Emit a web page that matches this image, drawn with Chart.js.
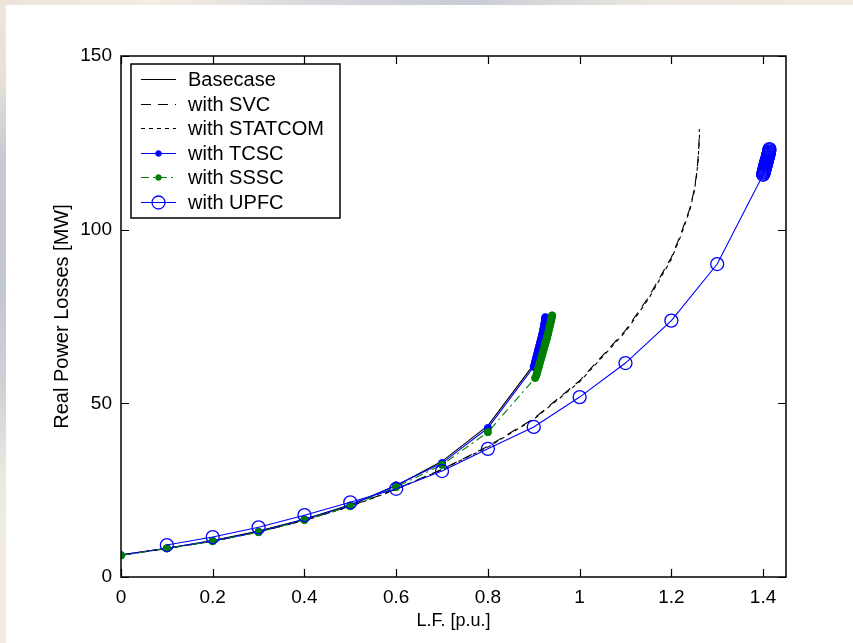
<!DOCTYPE html>
<html>
<head>
<meta charset="utf-8">
<script src="https://cdn.jsdelivr.net/npm/chart.js@4.4.1/dist/chart.umd.min.js"></script>
<style>
  html, body { margin: 0; padding: 0; background: #fff; }
  #wrap { position: relative; width: 853px; height: 643px; background: #fff; }
  #edgeTop { position: absolute; left: 0; top: 0; width: 853px; height: 5px;
    background: linear-gradient(to right, #ece4da 0%, #f5ede2 18%, #d9dadd 36%, #c9ccd6 55%, #e9e6df 75%, #f3eadf 100%); }
  #edgeLeft { position: absolute; left: 0; top: 0; width: 6px; height: 643px;
    background: linear-gradient(to bottom, #efe6da 0%, #e6e1d8 12%, #c6c9d2 25%, #c3c7d3 45%, #cfd1d5 60%, #eceae2 75%, #f3ece2 100%); }
</style>
</head>
<body>
<div id="wrap">
  <canvas id="chart" width="853" height="643"></canvas>
  <div id="edgeTop"></div>
  <div id="edgeLeft"></div>
</div>
<script>
// --- Data ---
const lfBase   = [0, 0.1, 0.2, 0.3, 0.4, 0.5, 0.6, 0.7, 0.8, 0.9, 0.905, 0.91, 0.914, 0.917, 0.92, 0.922];
const lossBase = [6.4, 8.3, 10.5, 13.2, 16.6, 20.8, 26.3, 33.3, 43.6, 61.2, 63.6, 66.0, 68.4, 70.5, 72.6, 74.4];

const lfSvc   = [0, 0.1, 0.2, 0.3, 0.4, 0.5, 0.6, 0.7, 0.8, 0.9, 1.0, 1.1, 1.15, 1.2, 1.22, 1.24, 1.25, 1.255, 1.258, 1.26, 1.261];
const lossSvc = [6.3, 8.2, 10.3, 13.0, 16.3, 20.4, 25.3, 31.0, 37.6, 45.6, 56.5, 71.0, 80.5, 92.0, 98.5, 106.0, 111.5, 116.0, 120.0, 124.0, 129.0];

const lfStatcom   = [0, 0.1, 0.2, 0.3, 0.4, 0.5, 0.6, 0.7, 0.8, 0.9, 1.0, 1.1, 1.15, 1.2, 1.22, 1.24, 1.25, 1.255, 1.258, 1.26, 1.262];
const lossStatcom = [6.3, 8.2, 10.3, 13.0, 16.3, 20.3, 25.2, 30.9, 37.4, 45.4, 56.2, 70.6, 80.0, 91.5, 98.0, 105.5, 111.0, 115.5, 119.5, 123.5, 128.5];

// TCSC: regular steps to 0.9, then many small continuation steps near the nose
const lfTcsc = [0, 0.1, 0.2, 0.3, 0.4, 0.5, 0.6, 0.7, 0.8, 0.9,
    0.9016, 0.903, 0.9046, 0.906, 0.9074, 0.909, 0.9101, 0.9116, 0.913, 0.9141, 0.9155, 0.9169,
    0.918, 0.9191, 0.9201, 0.921, 0.9219, 0.9226, 0.9232, 0.9238, 0.9244, 0.9248, 0.9252];
const lossTcsc = [6.3, 8.3, 10.4, 13.0, 16.6, 20.6, 26.4, 32.8, 42.9, 60.5,
    61.2, 62.0, 62.8, 63.5, 64.2, 65.0, 65.6, 66.3, 67.0, 67.6, 68.3, 69.0,
    69.6, 70.2, 70.8, 71.4, 71.9, 72.4, 72.9, 73.4, 73.9, 74.4, 74.8];

const lfSssc = [0, 0.1, 0.2, 0.3, 0.4, 0.5, 0.6, 0.7, 0.8, 0.903,
    0.9055, 0.9071, 0.9084, 0.91, 0.9116, 0.913, 0.9144, 0.916, 0.9176, 0.919, 0.9204, 0.922,
    0.9236, 0.925, 0.9262, 0.9277, 0.9289, 0.93, 0.9312, 0.9322, 0.9331, 0.9341, 0.935, 0.9359,
    0.9366, 0.9374, 0.938, 0.9387, 0.9394, 0.94];
const lossSssc = [6.2, 8.2, 10.3, 12.9, 16.4, 20.4, 25.9, 32.3, 41.7, 57.3,
    58.0, 58.7, 59.4, 60.1, 60.8, 61.5, 62.2, 62.9, 63.6, 64.3, 65.0, 65.7,
    66.4, 67.1, 67.7, 68.3, 68.9, 69.5, 70.1, 70.7, 71.3, 71.8, 72.3, 72.8,
    73.3, 73.7, 74.1, 74.5, 74.9, 75.3];

const lfUpfc = [0.1, 0.2, 0.3, 0.4, 0.5, 0.6, 0.7, 0.8, 0.9, 1.0, 1.1, 1.2, 1.3, 1.4,
    1.4007, 1.4012, 1.4019, 1.4024, 1.4031, 1.4036, 1.4041, 1.4049, 1.4054, 1.406, 1.4067,
    1.4072, 1.4077, 1.4085, 1.409, 1.4095, 1.4103, 1.4108, 1.4113, 1.412, 1.4125, 1.4131,
    1.4135, 1.414];
const lossUpfc = [9.2, 11.5, 14.3, 17.8, 21.5, 25.4, 30.5, 36.9, 43.2, 51.8, 61.6, 73.8, 90.1, 115.8,
    116.1, 116.4, 116.7, 117.0, 117.3, 117.6, 117.9, 118.2, 118.5, 118.8, 119.1,
    119.4, 119.7, 120.0, 120.3, 120.6, 120.9, 121.2, 121.5, 121.8, 122.1, 122.5,
    122.9, 123.2];

const xTicks = [0, 0.2, 0.4, 0.6, 0.8, 1, 1.2, 1.4];
const yTicks = [0, 50, 100, 150];

const FONT = '"Liberation Sans", Arial, sans-serif';

function pts(xs, ys) {
    return xs.map((x, i) => ({ x: x, y: ys[i] }));
}

// MATLAB style box with inward ticks
const axesBox = {
    id: 'axesBox',
    afterDatasetsDraw(chart) {
        const { ctx, chartArea: a, scales } = chart;
        ctx.save();
        ctx.strokeStyle = '#000';
        ctx.lineWidth = 1.5;
        ctx.strokeRect(a.left, a.top, a.right - a.left, a.bottom - a.top);
        ctx.beginPath();
        xTicks.forEach(v => {
            const px = Math.round(scales.x.getPixelForValue(v)) + 0.5;
            ctx.moveTo(px, a.bottom); ctx.lineTo(px, a.bottom - 8);
            ctx.moveTo(px, a.top); ctx.lineTo(px, a.top + 8);
        });
        yTicks.forEach(v => {
            const py = Math.round(scales.y.getPixelForValue(v)) + 0.5;
            ctx.moveTo(a.left, py); ctx.lineTo(a.left + 8, py);
            ctx.moveTo(a.right, py); ctx.lineTo(a.right - 8, py);
        });
        ctx.lineWidth = 1.2;
        ctx.stroke();
        ctx.restore();
    }
};

// legend box in the upper left corner of the axes
const boxLegend = {
    id: 'boxLegend',
    afterDraw(chart) {
        const ctx = chart.ctx;
        const left = 131, top = 64, w = 209, h = 154;
        ctx.save();
        ctx.fillStyle = '#fff';
        ctx.fillRect(left, top, w, h);
        ctx.strokeStyle = '#000';
        ctx.lineWidth = 1.5;
        ctx.strokeRect(left, top, w, h);
        ctx.font = '20px ' + FONT;
        ctx.textBaseline = 'middle';
        chart.data.datasets.forEach((ds, i) => {
            const y = Math.round(79 + i * 24.6) + 0.5;
            ctx.strokeStyle = ds.borderColor;
            ctx.lineWidth = 1;
            ctx.setLineDash(ds.borderDash || []);
            ctx.beginPath();
            ctx.moveTo(141, y); ctx.lineTo(176, y);
            ctx.stroke();
            ctx.setLineDash([]);
            if (ds.pointRadius > 0) {
                const r = Math.min(ds.pointRadius, ds.pointBackgroundColor === 'transparent' ? 7 : 2.8);
                ctx.beginPath();
                ctx.arc(158.5, y, r, 0, Math.PI * 2);
                if (ds.pointBackgroundColor !== 'transparent') {
                    ctx.fillStyle = ds.pointBackgroundColor;
                    ctx.fill();
                }
                ctx.strokeStyle = ds.pointBorderColor;
                ctx.lineWidth = ds.pointBorderWidth;
                ctx.stroke();
            }
            ctx.fillStyle = '#000';
            ctx.fillText(ds.label, 188, y + 1);
        });
        ctx.restore();
    }
};

const whiteBg = {
    id: 'whiteBg',
    beforeDraw(chart) {
        const ctx = chart.ctx;
        ctx.save();
        ctx.fillStyle = '#fff';
        ctx.fillRect(0, 0, chart.width, chart.height);
        ctx.restore();
    }
};

Chart.defaults.font.family = FONT;
Chart.defaults.color = '#000';

const ctx = document.getElementById('chart').getContext('2d');
new Chart(ctx, {
    type: 'scatter',
    data: {
        datasets: [
            { label: 'Basecase', data: pts(lfBase, lossBase), showLine: true, borderColor: '#000', borderWidth: 1.1,
              pointRadius: 0, order: 6 },
            { label: 'with SVC', data: pts(lfSvc, lossSvc), showLine: true, borderColor: '#000', borderWidth: 1.1,
              borderDash: [10, 7], pointRadius: 0, order: 5 },
            { label: 'with STATCOM', data: pts(lfStatcom, lossStatcom), showLine: true, borderColor: '#000', borderWidth: 1.1,
              borderDash: [4, 4], pointRadius: 0, order: 4 },
            { label: 'with TCSC', data: pts(lfTcsc, lossTcsc), showLine: true, borderColor: '#0000ff', borderWidth: 1.1,
              pointRadius: 3.6, pointBackgroundColor: '#0000ff', pointBorderColor: '#0000ff', pointBorderWidth: 1, order: 3 },
            { label: 'with SSSC', data: pts(lfSssc, lossSssc), showLine: true, borderColor: '#008000', borderWidth: 1.1,
              borderDash: [8, 4, 2, 4],
              pointRadius: 3.6, pointBackgroundColor: '#008000', pointBorderColor: '#008000', pointBorderWidth: 1, order: 2 },
            { label: 'with UPFC', data: pts(lfUpfc, lossUpfc), showLine: true, borderColor: '#0000ff', borderWidth: 1.1,
              pointRadius: 6.5, pointBackgroundColor: 'transparent', pointBorderColor: '#0000ff', pointBorderWidth: 1.3, order: 1 }
        ]
    },
    options: {
        responsive: false,
        animation: false,
        events: [],
        layout: { padding: { left: 0, top: 56, right: 67, bottom: 0 } },
        plugins: {
            legend: { display: false },
            tooltip: { enabled: false }
        },
        scales: {
            x: {
                type: 'linear',
                min: 0,
                max: 1.45,
                afterBuildTicks: s => { s.ticks = xTicks.map(v => ({ value: v })); },
                afterFit: s => { s.height = 643 - 577; },
                grid: { display: false, drawTicks: false },
                border: { display: false },
                ticks: { padding: 9, font: { size: 19 }, color: '#000', callback: v => String(v) },
                title: { display: true, text: 'L.F. [p.u.]', font: { size: 18 }, color: '#000', padding: { top: 0, bottom: 11 } }
            },
            y: {
                type: 'linear',
                min: 0,
                max: 150,
                afterBuildTicks: s => { s.ticks = yTicks.map(v => ({ value: v })); },
                afterFit: s => { s.width = 121; },
                grid: { display: false, drawTicks: false },
                border: { display: false },
                ticks: { padding: 9, font: { size: 19 }, color: '#000', callback: v => String(v) },
                title: { display: true, text: 'Real Power Losses [MW]', font: { size: 20 }, color: '#000', padding: { top: 50, bottom: 0 } }
            }
        }
    },
    plugins: [whiteBg, axesBox, boxLegend]
});
</script>
</body>
</html>
